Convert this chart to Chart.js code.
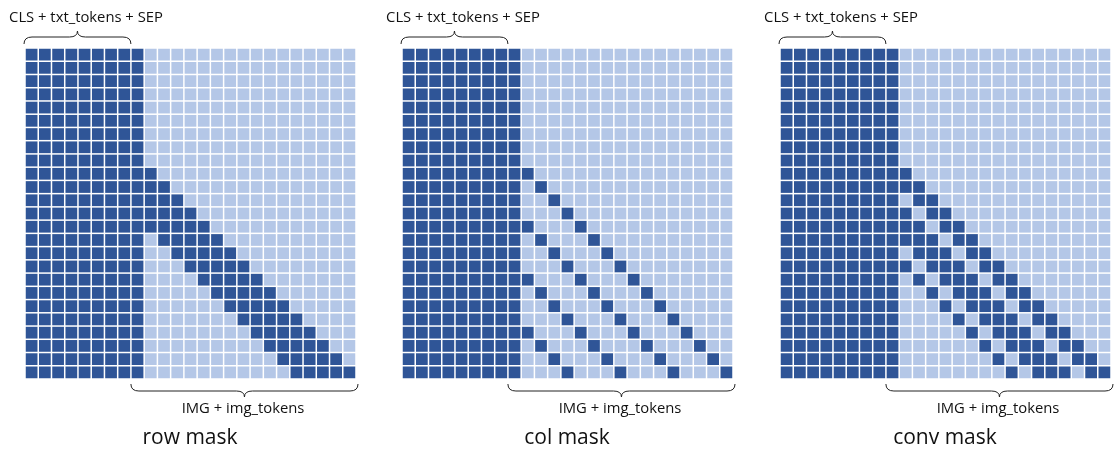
<!DOCTYPE html>
<html>
<head>
<meta charset="utf-8">
<script src="https://cdn.jsdelivr.net/npm/chart.js@4.4.1/dist/chart.umd.min.js"></script>
<style>
  body { margin: 0; background: #fff; }
  #page { position: relative; width: 1115px; height: 455px; overflow: hidden; font-family: 'Open Sans', 'Noto Sans', sans-serif; color: #111; }
  .box { position: absolute; top: 0; width: 371px; height: 455px; }
  .lbl { position: absolute; width: 240px; text-align: center; font-size: 14.8px; line-height: 1; white-space: nowrap; }
  .ttl { position: absolute; width: 240px; text-align: center; font-size: 21px; line-height: 1; white-space: nowrap; }
</style>
</head>
<body>
<div id="page"></div>
<script>
'use strict';

// token groups
let txtCount = 9;   // CLS + txt_tokens + SEP
let imgCount = 16;  // IMG + img_tokens

let maskNames = ['row mask', 'col mask', 'conv mask'];
let topLabel = 'CLS + txt_tokens + SEP';
let bottomLabel = 'IMG + img_tokens';

// image columns each image row can see
let rowMask = [[0], [0, 1], [0, 1, 2], [0, 1, 2, 3], [0, 1, 2, 3, 4], [1, 2, 3, 4, 5], [2, 3, 4, 5, 6], [3, 4, 5, 6, 7],
  [4, 5, 6, 7, 8], [5, 6, 7, 8, 9], [6, 7, 8, 9, 10], [7, 8, 9, 10, 11], [8, 9, 10, 11, 12], [9, 10, 11, 12, 13],
  [10, 11, 12, 13, 14], [11, 12, 13, 14, 15]];
let colMask = [[0], [1], [2], [3], [0, 4], [1, 5], [2, 6], [3, 7], [0, 4, 8], [1, 5, 9], [2, 6, 10], [3, 7, 11],
  [0, 4, 8, 12], [1, 5, 9, 13], [2, 6, 10, 14], [3, 7, 11, 15]];
let convMask = [[0], [0, 1], [1, 2], [0, 2, 3], [0, 1, 3, 4], [0, 1, 2, 4, 5], [1, 2, 3, 5, 6], [0, 2, 3, 4, 6, 7],
  [1, 3, 4, 5, 7, 8], [2, 4, 5, 6, 8, 9], [3, 5, 6, 7, 9, 10], [4, 6, 7, 8, 10, 11], [5, 7, 8, 9, 11, 12],
  [6, 8, 9, 10, 12, 13], [7, 9, 10, 11, 13, 14], [8, 10, 11, 12, 14, 15]];

let masks = [rowMask, colMask, convMask];

let darkColor = '#2F5597';
let lightColor = '#B4C7E7';
let gridLefts = [25, 402, 780];

let pageEl = document.getElementById('page');

function buildPoints(mask) {
  let n = txtCount + imgCount;
  let on = [];
  let off = [];
  for (let r = 0; r < n; r++) {
    for (let c = 0; c < n; c++) {
      let seen = c < txtCount || (r >= txtCount && c >= txtCount && mask[r - txtCount].includes(c - txtCount));
      if (seen) {
        on.push({ x: c, y: r });
      } else {
        off.push({ x: c, y: r });
      }
    }
  }
  return [on, off];
}

function cellRadius(ctx) {
  let sc = ctx.chart.scales.x;
  if (!sc) return 8;
  let cell = sc.getPixelForValue(1) - sc.getPixelForValue(0);
  return (cell - 1.5) / Math.SQRT2;
}

function drawBrace(ctx, x1, x2, yEnd, yMid, yTip) {
  let xm = (x1 + x2) / 2;
  let r = 8;
  ctx.beginPath();
  ctx.moveTo(x1, yEnd);
  ctx.quadraticCurveTo(x1, yMid, x1 + r, yMid);
  ctx.lineTo(xm - r, yMid);
  ctx.quadraticCurveTo(xm, yMid, xm, yTip);
  ctx.quadraticCurveTo(xm, yMid, xm + r, yMid);
  ctx.lineTo(x2 - r, yMid);
  ctx.quadraticCurveTo(x2, yMid, x2, yEnd);
  ctx.stroke();
}

let bracePlugin = {
  id: 'braces',
  afterDraw(chart) {
    let ctx = chart.ctx;
    let xs = chart.scales.x;
    let area = chart.chartArea;
    ctx.save();
    ctx.strokeStyle = '#222';
    ctx.lineWidth = 1;
    let split = xs.getPixelForValue(txtCount - 1.5);
    drawBrace(ctx, xs.getPixelForValue(-0.5) - 1, split, area.top - 4, area.top - 11, area.top - 17);
    drawBrace(ctx, split, xs.getPixelForValue(txtCount + imgCount - 0.5) + 2, area.bottom + 5, area.bottom + 12, area.bottom + 18);
    ctx.restore();
  }
};

function addText(cls, text, centerX, top) {
  let el = document.createElement('div');
  el.className = cls;
  el.textContent = text;
  el.style.left = (centerX - 120) + 'px';
  el.style.top = top + 'px';
  pageEl.appendChild(el);
}

for (let i = 0; i < masks.length; i++) {
  let gl = gridLefts[i];
  let boxEl = document.createElement('div');
  boxEl.className = 'box';
  boxEl.style.left = (gl - 20) + 'px';
  let canvasEl = document.createElement('canvas');
  boxEl.appendChild(canvasEl);
  pageEl.appendChild(boxEl);

  let pts = buildPoints(masks[i]);
  new Chart(canvasEl.getContext('2d'), {
    type: 'scatter',
    data: {
      datasets: [{
        data: pts[0],
        backgroundColor: darkColor,
        borderWidth: 0,
        pointStyle: 'rect',
        pointRadius: cellRadius,
        pointHoverRadius: cellRadius
      },
      {
        data: pts[1],
        backgroundColor: lightColor,
        borderWidth: 0,
        pointStyle: 'rect',
        pointRadius: cellRadius,
        pointHoverRadius: cellRadius
      }]
    },
    options: {
      responsive: true,
      maintainAspectRatio: false,
      animation: false,
      events: [],
      layout: { padding: { left: 20, right: 20, top: 48, bottom: 76 } },
      scales: {
        x: { type: 'linear', min: -0.5, max: txtCount + imgCount - 0.5, display: false },
        y: { type: 'linear', min: -0.5, max: txtCount + imgCount - 0.5, reverse: true, display: false }
      },
      plugins: {
        legend: { display: false },
        tooltip: { enabled: false }
      }
    },
    plugins: [bracePlugin]
  });

  addText('lbl', topLabel, gl + 61, 9);
  addText('lbl', bottomLabel, gl + 218, 400);
  addText('ttl', maskNames[i], gl + 165, 426);
}
</script>
</body>
</html>
